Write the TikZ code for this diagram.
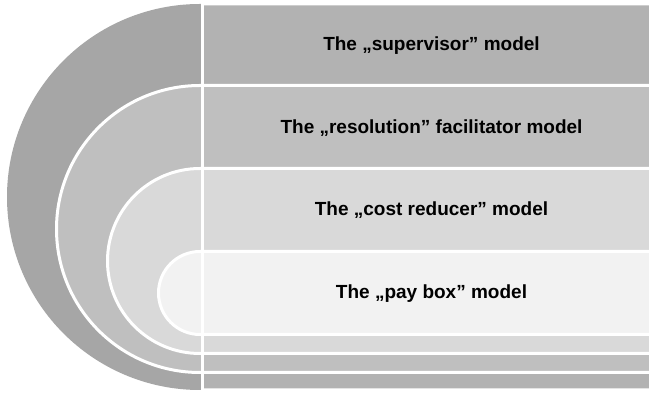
\documentclass[tikz,border=0pt]{standalone}
\usepackage{fontspec}
\setmainfont{Liberation Sans}
\definecolor{gA}{HTML}{A6A6A6}
\definecolor{gAr}{HTML}{B2B2B2}
\definecolor{gB}{HTML}{BFBFBF}
\definecolor{gC}{HTML}{D9D9D9}
\definecolor{gD}{HTML}{F2F2F2}
\begin{document}
\begin{tikzpicture}[x=1pt,y=1pt,
  band/.style={draw=white,line width=3pt},
  lbl/.style={anchor=base,inner sep=0pt,font=\fontsize{19}{22}\selectfont\bfseries,text=black}]
\useasboundingbox (0,0) rectangle (649,393);
\clip (0,0) rectangle (649,393);
% outer shape
\path[fill=gAr,band] (660,389) -- (200,389) arc[start angle=90,end angle=270,radius=193] -- (660,3) -- cycle;
\fill[gA] (202,389) -- (200,389) arc[start angle=90,end angle=270,radius=193] -- (202,3) -- cycle;
% second shape
\path[fill=gB,band] (660,307.5) -- (200,307.5) arc[start angle=90,end angle=270,radius=143.5] -- (660,20.5) -- cycle;
% third shape
\path[fill=gC,band] (660,224.5) -- (200,224.5) arc[start angle=90,end angle=270,radius=92.5] -- (660,39.5) -- cycle;
% fourth shape
\path[fill=gD,band] (660,141.5) -- (200,141.5) arc[start angle=90,end angle=270,radius=41.5] -- (660,58.5) -- cycle;
% vertical divider
\coordinate (vt) at (202,392);
\coordinate (vb) at (202,1);
\draw[white,line width=3pt] (vt) -- (vb);
% labels
\node[lbl] (l1) at (431.5,342) {The „supervisor” model};
\node[lbl] (l2) at (431.5,259.5) {The „resolution” facilitator model};
\node[lbl] (l3) at (431.5,177) {The „cost reducer” model};
\node[lbl] (l4) at (431.5,94.5) {The „pay box” model};
\end{tikzpicture}
\end{document}
